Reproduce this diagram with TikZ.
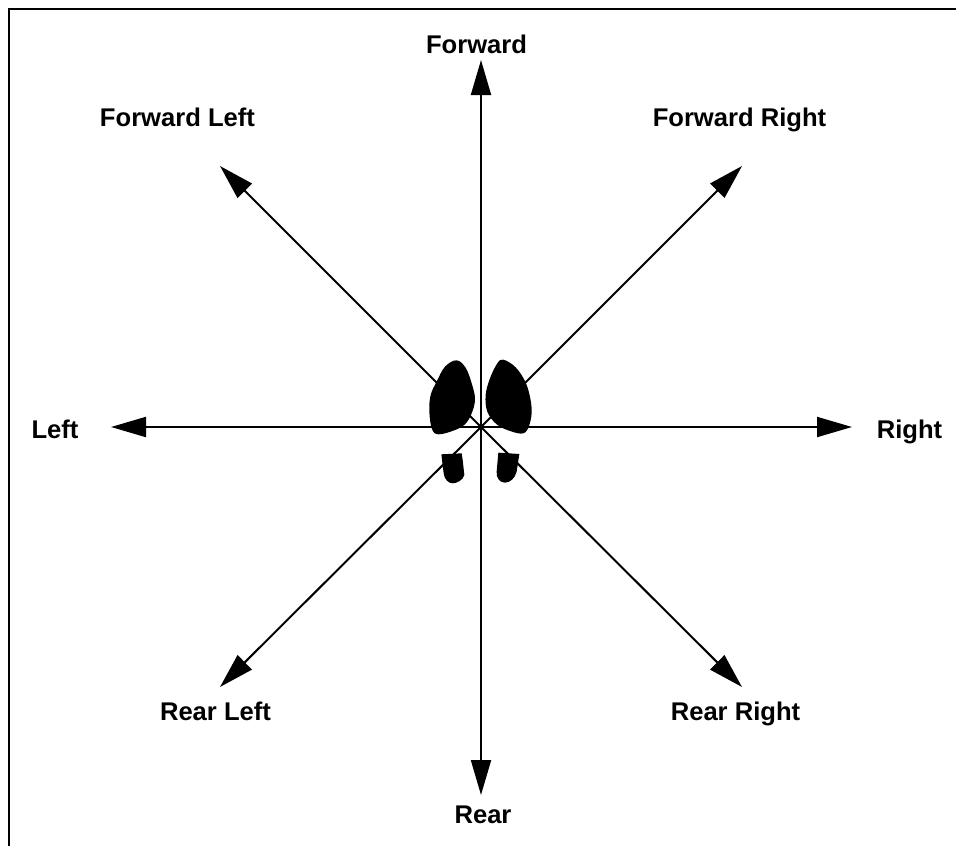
\documentclass[tikz,border=0pt]{standalone}
\usepackage{fontspec}
\setmainfont{Liberation Sans}
\usetikzlibrary{arrows.meta}
\tikzset{
  x=1pt,y=-1pt,
  lbl/.style={font=\fontsize{25.6}{28}\selectfont\bfseries,inner sep=0pt,anchor=base},
  dirarrow/.style={line width=2pt,-{Triangle[length=35pt,width=20pt,sep=0pt]}},
  foot/.style={fill=black,draw=none},
  frameline/.style={line width=2.5pt,line cap=butt,line join=miter}
}
\begin{document}
\begin{tikzpicture}
\useasboundingbox (0,0) rectangle (956,846);
\fill[white] (0,0) rectangle (956,846);
\coordinate (fa) at (9,846);
\coordinate (fb) at (9,9);
\coordinate (fc) at (956,9);
\draw[frameline] (fa) -- (fb) -- (fc);
\coordinate (c) at (481,427);
\coordinate (tF) at (481,60);
\coordinate (tR) at (481,795);
\coordinate (tL) at (111,427);
\coordinate (tRt) at (852,427);
\coordinate (tFL) at (220,166);
\coordinate (tFR) at (742,166);
\coordinate (tRL) at (220,687);
\coordinate (tRR) at (742,687);
\foreach \t in {tF,tR,tL,tRt,tFL,tFR,tRL,tRR}{\draw[dirarrow] (c) -- (\t);}
\begin{scope}[shift={(410,345)},x=0.3333pt,y=-0.3333pt]
\fill[foot] plot[smooth cycle,tension=0.6] coordinates {(140,46)(168,70)(188,125)(195,165)(185,205)(165,238)(130,257)(85,268)(66,252)(58,200)(62,150)(80,110)(105,65)};
\fill[foot] plot[smooth cycle,tension=0.6] coordinates {(280,44)(318,68)(350,120)(365,190)(358,240)(340,265)(300,258)(260,238)(232,200)(227,150)(240,100)(262,55)};
\fill[foot] (94,328) -- (155,325) -- (158,345) -- (163,390) .. controls (160,405) and (140,415) .. (128,415) .. controls (115,415) and (103,403) .. (101,385) -- cycle;
\fill[foot] (265,323) -- (328,327) -- (320,380) .. controls (315,400) and (300,413) .. (285,413) .. controls (270,413) and (258,400) .. (260,380) -- cycle;
\end{scope}
\node[lbl] (nF) at (476.5,53) {Forward};
\node[lbl] (nFL) at (177.5,126) {Forward Left};
\node[lbl] (nFR) at (739.5,126) {Forward Right};
\node[lbl] (nL) at (55,438) {Left};
\node[lbl] (nRt) at (909.5,438) {Right};
\node[lbl] (nRL) at (215.5,720) {Rear Left};
\node[lbl] (nRR) at (735.5,720) {Rear Right};
\node[lbl] (nR) at (483,823) {Rear};
\end{tikzpicture}
\end{document}
